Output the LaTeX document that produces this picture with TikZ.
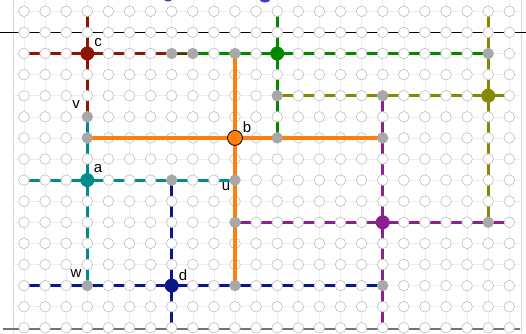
\documentclass[tikz,border=0pt]{standalone}
\usepackage{fontspec}
\setmainfont{Liberation Sans}
\definecolor{cred}{RGB}{140,22,6}
\definecolor{cgreen}{RGB}{0,136,0}
\definecolor{colive}{RGB}{136,136,0}
\definecolor{corange}{RGB}{255,127,14}
\definecolor{cteal}{RGB}{0,140,140}
\definecolor{cnavy}{RGB}{10,22,140}
\definecolor{cpurple}{RGB}{140,32,140}
\definecolor{cdot}{RGB}{168,168,168}
\definecolor{cring}{RGB}{190,190,190}
\definecolor{cfaint}{RGB}{238,238,238}
\definecolor{cblue}{RGB}{60,60,190}
\tikzset{
  seg/.style={line width=2.8pt},
  oseg/.style={line width=4pt, corange},
  ring/.style={circle, draw=cring, fill=white, line width=0.6pt, minimum size=10.6pt, inner sep=0pt},
  graydot/.style={circle, fill=cdot, minimum size=11pt, inner sep=0pt},
  bigdot/.style={circle, fill=#1, minimum size=14pt, inner sep=0pt},
  lbl/.style={inner sep=0pt, font=\fontsize{15}{18}\selectfont}
}
\begin{document}
\begin{tikzpicture}[x=1pt,y=-1pt]
\useasboundingbox (0,0) rectangle (526,333);
\fill[white] (0,0) rectangle (526,333);
% grid coordinates
\foreach \k in {0,...,23}{\foreach \r in {0,...,15}{
  \coordinate (p-\k-\r) at ({24+21.1*\k},{11.3+21.1*\r});}}
% faint grid
\foreach \k in {0,...,23}{\draw[cfaint, line width=0.6pt] ({24+21.1*\k},0) -- ({24+21.1*\k},333);}
\foreach \r in {0,...,15}{\draw[cfaint, line width=0.6pt] (13,{11.3+21.1*\r}) -- (521,{11.3+21.1*\r});}
\draw[cring!60, line width=0.6pt] (13,0) -- (13,333);
\draw[cring!60, line width=0.6pt] (521,0) -- (521,333);
% cut-off blue marks at top
\fill[cblue] (168,-1) ellipse [x radius=4, y radius=2.5];
\fill[cblue] (265,-2) ellipse [x radius=6, y radius=4.5];
% boundary lines
\coordinate (tl) at (0,32.4); \coordinate (tr) at (526,32.4);
\draw[black, line width=1.2pt] (tl) -- (tr);
\coordinate (bl) at (3,328.8); \coordinate (br) at (520,328.8);
\draw[black!55, line width=1.6pt] (bl) -- (br);
% coloured segments under the rings
\draw[seg, cred] (p-0-2) -- (p-7-2);
\draw[seg, cred] (p-3-0) -- (p-3-5);
\draw[seg, cgreen] (p-8-2) -- (p-22-2);
\draw[line width=1.5pt, cgreen] ([yshift=0.7pt]p-7-2) -- ([yshift=0.7pt]p-8-2);
\draw[line width=1.5pt, cred] ([yshift=-0.7pt]p-7-2) -- ([yshift=-0.7pt]p-8-2);
\draw[seg, cgreen] (p-12-0) -- (p-12-6);
\draw[seg, colive] (p-12-4) -- (p-23-4);
\draw[seg, colive] (p-22-0) -- (p-22-10);
\draw[seg, cteal] (p-0-8) -- (p-10-8);
\draw[seg, cteal] (p-3-5) -- (p-3-13);
\draw[seg, cnavy] (p-0-13) -- (p-17-13);
\draw[seg, cnavy] (p-7-8) -- (p-7-15);
\draw[seg, cpurple] (p-10-10) -- (p-23-10);
\draw[seg, cpurple] (p-17-4) -- (p-17-15);
% rings
\foreach \k in {0,...,23}{\foreach \r in {0,...,15}{
  \node[ring] (r-\k-\r) at (p-\k-\r) {};}}
% orange segments over the rings
\draw[oseg] (p-3-6) -- (p-17-6);
\draw[oseg] (p-10-2) -- (p-10-13);
% gray end points
\foreach \k/\r in {7/2,8/2,10/2,22/2,12/4,17/4,3/5,3/6,12/6,17/6,7/8,10/8,10/10,22/10,3/13,10/13,17/13}{
  \node[graydot] (g-\k-\r) at (p-\k-\r) {};}
% main points
\node[bigdot=cred] (c) at (p-3-2) {};
\node[bigdot=cgreen] (gpt) at (p-12-2) {};
\node[bigdot=colive] (opt) at (p-22-4) {};
\node[circle, fill=corange, draw=black, line width=0.8pt, minimum size=15pt, inner sep=0pt] (b) at (p-10-6) {};
\node[bigdot=cteal] (a) at (p-3-8) {};
\node[bigdot=cpurple] (ppt) at (p-17-10) {};
\node[bigdot=cnavy] (d) at (p-7-13) {};
% labels
\node[lbl] (lc) at (98,43) {c};
\node[lbl] (lv) at (76,105) {v};
\node[lbl] (la) at (98,169) {a};
\node[lbl] (lb) at (247,127) {b};
\node[lbl] (lu) at (226,187) {u};
\node[lbl] (lw) at (76,274) {w};
\node[lbl] (ld) at (183,275) {d};
\end{tikzpicture}
\end{document}
